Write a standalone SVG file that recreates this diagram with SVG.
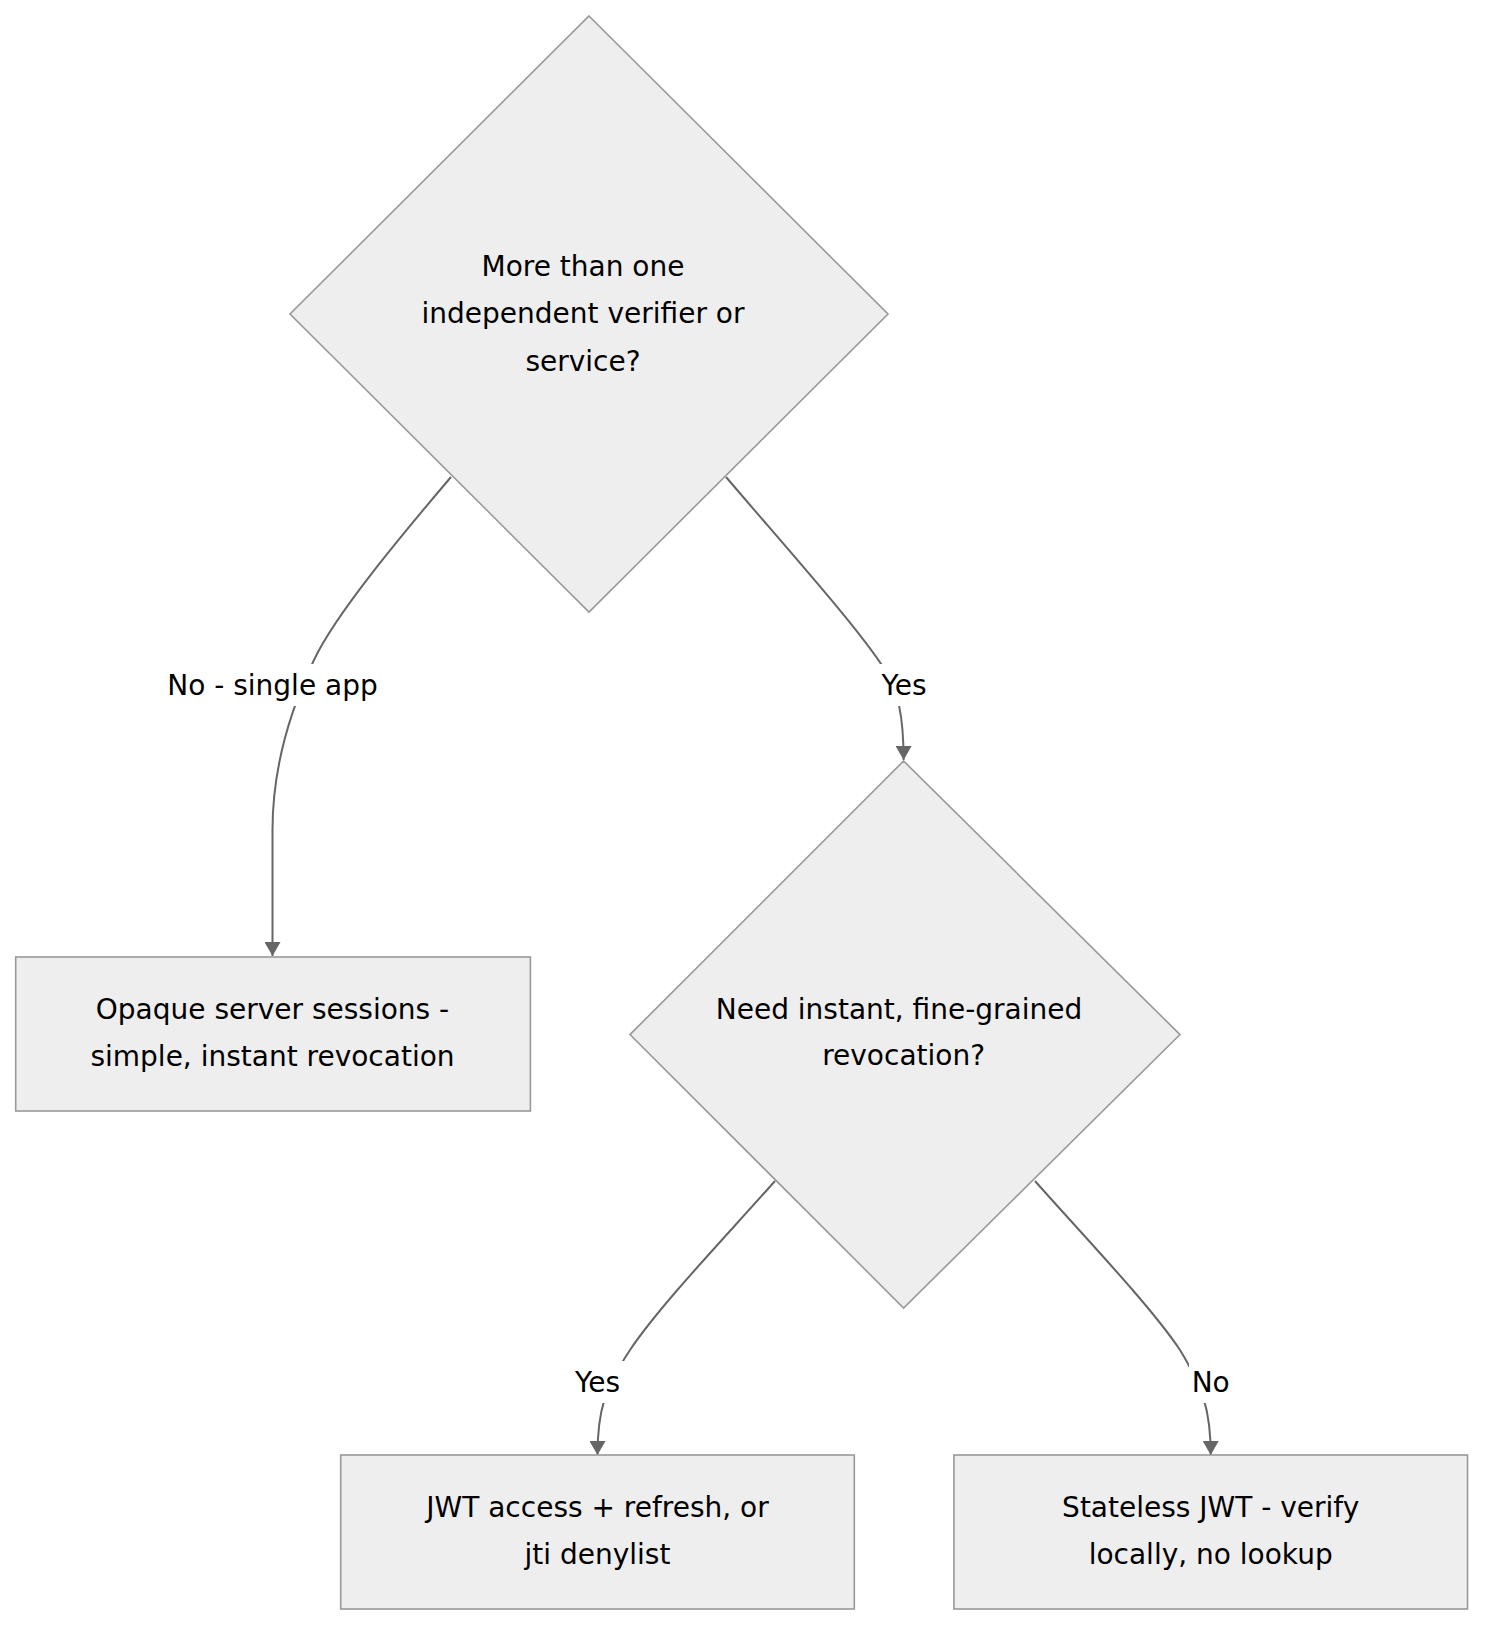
<svg xmlns="http://www.w3.org/2000/svg" width="1500" height="1644" viewBox="0 0 1500 1644">
<defs>
<style>
.node{fill:#eeeeee;stroke:#999999;stroke-width:1.6}
.t{font-family:"DejaVu Sans",sans-serif;font-size:28px;fill:#000;text-anchor:middle;dominant-baseline:central}
.edge{fill:none;stroke:#666666;stroke-width:2}
.lblbg{fill:#ffffff}
</style>
<marker id="arr" markerUnits="userSpaceOnUse" markerWidth="14" markerHeight="16" refX="14" refY="8" orient="auto" viewBox="0 0 14 16">
<path d="M0,0 L14,8 L0,16 Z" fill="#666666"/>
</marker>
</defs>
<rect width="1500" height="1644" fill="#ffffff"/>
<g id="connectors">
<path class="edge" d="M451,477 C400,537 335,615 314,660 C295,700 272.5,760 272.5,830 L272.5,956" marker-end="url(#arr)"/>
<path class="edge" d="M726,477 C790,552 860,630 885,670 C898,692 903.6,715 903.6,760" marker-end="url(#arr)"/>
<path class="edge" d="M775,1181 C730,1232 660,1305 630,1350 C605,1388 597.5,1410 597.5,1455" marker-end="url(#arr)"/>
<path class="edge" d="M1035,1181 C1080,1232 1150,1305 1180,1350 C1203,1388 1210.7,1410 1210.7,1455" marker-end="url(#arr)"/>
<g id="label-no-single">
<rect class="lblbg" x="165" y="664" width="215" height="42"/>
<text class="t" x="272.5" y="685">No - single app</text>
</g>
<g id="label-yes-1">
<rect class="lblbg" x="877" y="664" width="54" height="42"/>
<text class="t" x="904" y="685">Yes</text>
</g>
<g id="label-yes-2">
<rect class="lblbg" x="571" y="1361" width="54" height="42"/>
<text class="t" x="597.5" y="1382">Yes</text>
</g>
<g id="label-no">
<rect class="lblbg" x="1189" y="1361" width="44" height="42"/>
<text class="t" x="1210.7" y="1382">No</text>
</g>
</g>
<g id="n-multi">
<polygon class="node" points="589,16 888,314 589,612 290,314"/>
<text class="t" x="583" y="266">More than one</text>
<text class="t" x="583" y="313">independent verifier or</text>
<text class="t" x="583" y="361">service?</text>
</g>
<g id="n-opaque">
<rect class="node" x="15.7" y="957" width="514.7" height="154"/>
<text class="t" x="272.5" y="1009">Opaque server sessions -</text>
<text class="t" x="272.5" y="1056">simple, instant revocation</text>
</g>
<g id="n-revoke">
<polygon class="node" points="903.6,761 1180,1034.6 903.6,1308 630,1034.6"/>
<text class="t" x="899" y="1009.5">Need instant, fine-grained</text>
<text class="t" x="903.6" y="1055.6">revocation?</text>
</g>
<g id="n-jwt-refresh">
<rect class="node" x="340.7" y="1455" width="513.6" height="154"/>
<text class="t" x="597.5" y="1507">JWT access + refresh, or</text>
<text class="t" x="597.5" y="1554.5">jti denylist</text>
</g>
<g id="n-stateless">
<rect class="node" x="953.9" y="1455" width="513.6" height="154"/>
<text class="t" x="1210.7" y="1507">Stateless JWT - verify</text>
<text class="t" x="1210.7" y="1554.5">locally, no lookup</text>
</g>
</svg>
